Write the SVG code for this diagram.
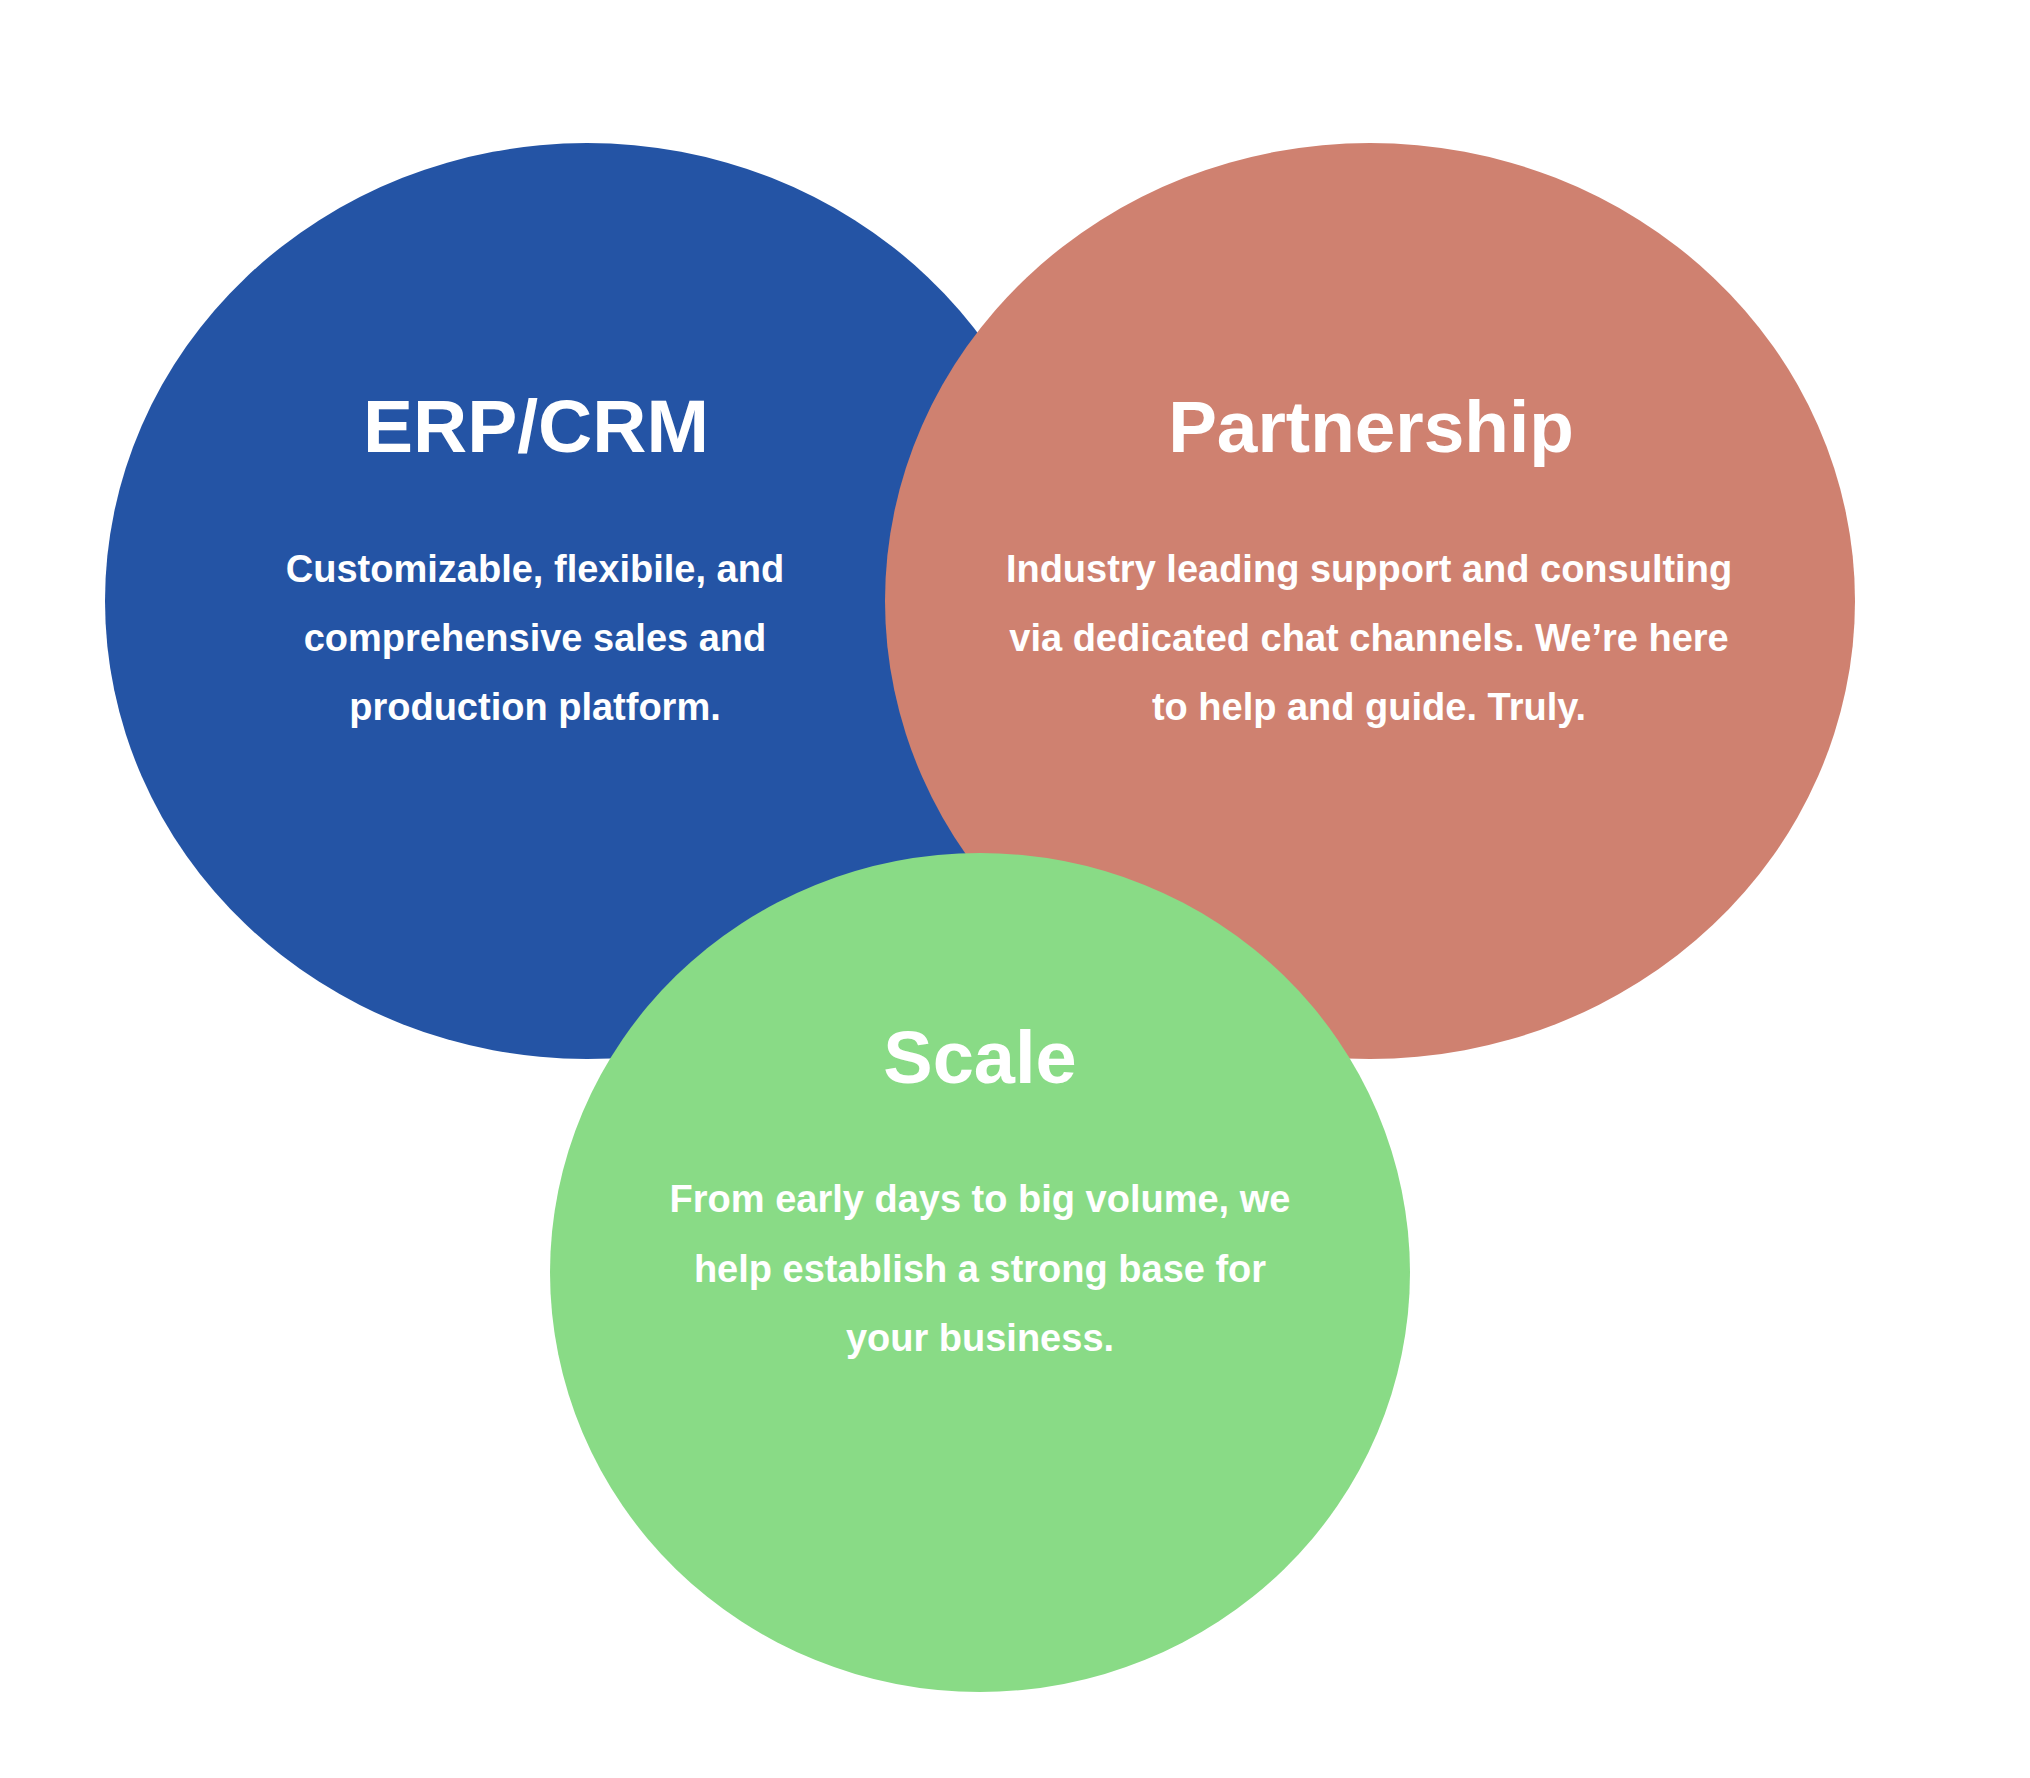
<svg xmlns="http://www.w3.org/2000/svg" width="2030" height="1778" viewBox="0 0 2030 1778">
<style>
.t{font-family:"Liberation Sans",Arial,sans-serif;font-weight:bold;fill:#ffffff;text-anchor:middle}
.h{font-size:73px}
.b{font-size:38px}
</style>
<rect x="0" y="0" width="2030" height="1778" fill="#ffffff"/>
<g id="erp-crm">
<ellipse cx="587" cy="601" rx="482" ry="458" fill="#2454A5"/>
<text class="t h" x="536" y="452" style="font-size:75px">ERP/CRM</text>
<text class="t b" x="535" y="582">Customizable, flexibile, and</text>
<text class="t b" x="535" y="651">comprehensive sales and</text>
<text class="t b" x="535" y="720">production platform.</text>
</g>
<g id="partnership">
<ellipse cx="1370" cy="601" rx="485" ry="458" fill="#CF8170"/>
<text class="t h" x="1371" y="452">Partnership</text>
<text class="t b" x="1369" y="582">Industry leading support and consulting</text>
<text class="t b" x="1369" y="651">via dedicated chat channels. We’re here</text>
<text class="t b" x="1369" y="720">to help and guide. Truly.</text>
</g>
<g id="scale">
<ellipse cx="980" cy="1272.5" rx="430" ry="419.5" fill="#89DB86"/>
<text class="t h" x="980" y="1083" style="font-size:74px">Scale</text>
<text class="t b" x="980" y="1212">From early days to big volume, we</text>
<text class="t b" x="980" y="1282">help establish a strong base for</text>
<text class="t b" x="980" y="1351">your business.</text>
</g>
<g id="connectors"/>
</svg>
